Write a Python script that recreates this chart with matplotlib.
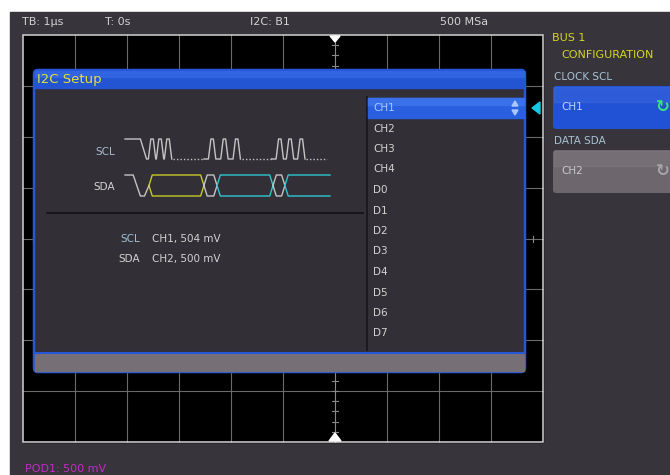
import numpy as np
import matplotlib
matplotlib.use('Agg')
import matplotlib.pyplot as plt
from matplotlib.patches import Rectangle, FancyBboxPatch, Polygon

#%% Screen content
header_labels = ['TB: 1\u00b5s', 'T: 0s', 'I2C: B1', '500 MSa']
source_list = ['CH1', 'CH2', 'CH3', 'CH4', 'D0', 'D1', 'D2', 'D3', 'D4', 'D5', 'D6', 'D7']
selected = 'CH1'
signal_names = ['SCL', 'SDA']
signal_sources = ['CH1', 'CH2']
thresholds_mv = [504, 500]
menu_title = ['BUS 1', 'CONFIGURATION']
menu_items = ['CLOCK SCL', 'DATA SDA']
pod_label = 'POD1: 500 mV'

# SCL clock bursts (pulse centres, diagram time 0..100) and SDA bus segments
scl_bursts = [[13.2, 17.1, 21.0], [42.5, 48.5, 54.5], [75.5, 80.5, 86.0]]
sda_segments = [(11.7, 38.5, 'y'), (38.5, 44.9, 'g'), (44.9, 72.2, 'c'), (72.2, 78.0, 'g'), (78.0, 101, 'c')]

#%% Colours
BG = '#37343b'
PANEL = '#322f36'
BLUE = '#2657d8'
GRID = '#6a6a6a'
TXT = '#d2d2d2'
YEL = '#d6d624'
CYAN = '#2ec6d2'
WAVE = '#c4c4c4'
seg_col = {'y': '#c8c828', 'g': WAVE, 'c': CYAN}

plt.rcParams['font.family'] = ['DejaVu Sans']
fig = plt.figure(figsize=(6.7, 4.75), dpi=100, facecolor='white')
ax = fig.add_axes([0, 0, 1, 1])
ax.set_xlim(0, 670)
ax.set_ylim(475, 0)
ax.axis('off')

ax.add_patch(Rectangle((10, 12), 660, 463, color=BG, zorder=0))

#%% Graticule
gx0, gx1, gy0, gy1 = 23, 543, 35, 442
ax.add_patch(Rectangle((gx0, gy0), gx1 - gx0, gy1 - gy0, color='black', zorder=1))
xs = np.linspace(gx0, gx1, 11)
ys = np.linspace(gy0, gy1, 9)
trig_x = xs[6]
for x in xs[1:-1]:
    if x != trig_x:
        ax.plot([x, x], [gy0, gy1], color=GRID, lw=0.8, zorder=2)
for y in ys[1:-1]:
    ax.plot([gx0, gx1], [y, y], color=GRID, lw=0.8, zorder=2)
# trigger position line with minor ticks
ax.plot([trig_x, trig_x], [gy0, gy1], color='#8a8a8a', lw=0.8, zorder=2)
for y in np.arange(gy0, gy1, (ys[1] - ys[0]) / 5)[1:]:
    ax.plot([trig_x - 3, trig_x + 3], [y, y], color='#8a8a8a', lw=0.8, zorder=2)
for x in np.arange(gx0, gx1, (xs[1] - xs[0]) / 5)[1:]:
    ax.plot([x, x], [ys[4] - 3, ys[4] + 3], color='#8a8a8a', lw=0.8, zorder=2)
ax.add_patch(Rectangle((gx0, gy0), gx1 - gx0, gy1 - gy0, fill=False, ec='#d4d4d4', lw=1.1, zorder=3))
ax.add_patch(Polygon([[trig_x - 5, gy0 + 1], [trig_x + 5, gy0 + 1], [trig_x, gy0 + 7]], color='white', zorder=4))
ax.add_patch(Polygon([[trig_x - 6, gy1 - 1], [trig_x + 6, gy1 - 1], [trig_x, gy1 - 9]], color='white', zorder=4))

#%% Header
for lab, x in zip(header_labels, [22, 105, 250, 440]):
    ax.text(x, 22, lab, color=TXT, fontsize=8, va='center', ha='left', zorder=5)

#%% Dialog
ax.add_patch(FancyBboxPatch((34, 70), 491, 302, boxstyle='round,pad=0,rounding_size=4',
                            fc=PANEL, ec=BLUE, lw=1.8, zorder=5))
ax.add_patch(Rectangle((35, 71), 489, 17, color='#2354d2', zorder=6))
ax.add_patch(Rectangle((35, 71), 489, 6, color='#3064e0', zorder=6))
ax.text(37, 80, 'I2C Setup', color='#e2e234', fontsize=9.5, va='center', zorder=7)
ax.add_patch(Rectangle((35, 353), 489, 18, color='#767076', zorder=6))
ax.plot([35, 524], [352.5, 352.5], color=BLUE, lw=1.5, zorder=7)

# source list
ax.plot([367, 367], [97, 350], color='#18161a', lw=1.2, zorder=6)
ax.add_patch(Rectangle((368, 98), 156, 20, color='#2a60e0', zorder=6))
ax.add_patch(Rectangle((368, 98), 156, 7, color='#3a70ea', zorder=6))
for i, name in enumerate(source_list):
    col = '#a8c8ff' if name == selected else TXT
    ax.text(373, 108 + 20.5 * i, name, color=col, fontsize=7.5, va='center', zorder=7)
ax.add_patch(Polygon([[512, 106], [518, 106], [515, 101]], color='#a8c8ff', zorder=7))
ax.add_patch(Polygon([[512, 110], [518, 110], [515, 115]], color='#a8c8ff', zorder=7))
ax.add_patch(Polygon([[540, 102], [540, 114], [532, 108]], color='#18c8e2', zorder=7))

#%% Waveform sketch
def tx(t):
    return 125 + 2.05 * np.asarray(t)

hi, lo = [139, 159], [175, 196]
# SCL: idle high, start fall, clock bursts joined by dotted low stretches
lead = 2.2
for k, burst in enumerate(scl_bursts):
    if k == 0:
        t, lvl = [0, 7.5, 10.5], [1, 1, 0]
    else:
        t, lvl = [burst[0] - 1.8 - lead], [0]
    for c in burst:
        t += [c - 1.8, c - 0.6, c + 0.6, c + 1.8]
        lvl += [0, 1, 1, 0]
    ax.plot(tx(t), np.where(np.array(lvl) == 1, hi[0], hi[1]), color=WAVE, lw=1, zorder=7)
    gap_end = scl_bursts[k + 1][0] - 1.8 - lead if k < 2 else 99
    ax.plot([tx(t[-1]) + 1.5, tx(gap_end) - 1], [hi[1], hi[1]], color=WAVE, lw=1,
            ls=(0, (1, 1.5)), zorder=7)

# SDA
mid = (lo[0] + lo[1]) / 2
ax.plot(tx([0, 4, 7.5, 9.5, 11.7]), [lo[0], lo[0], lo[1], lo[1], mid], color=WAVE, lw=1, zorder=7)
for a, b, c in sda_segments:
    r = 1.6
    xa, xb = tx(a), tx(b)
    if b > 100:
        xs_top = [xa, tx(a + r), tx(100)]
        ax.plot(xs_top, [mid, lo[0], lo[0]], color=seg_col[c], lw=1, zorder=7)
        ax.plot(xs_top, [mid, lo[1], lo[1]], color=seg_col[c], lw=1, zorder=7)
    else:
        ax.plot([xa, tx(a + r), tx(b - r), xb, tx(b - r), tx(a + r), xa],
                [mid, lo[0], lo[0], mid, lo[1], lo[1], mid], color=seg_col[c], lw=1, zorder=7)

ax.text(115, 152, signal_names[0], color='#a6bccb', fontsize=7.5, ha='right', va='center', zorder=7)
ax.text(115, 187, signal_names[1], color=TXT, fontsize=7.5, ha='right', va='center', zorder=7)
ax.plot([47, 363], [212.5, 212.5], color='#141216', lw=1.2, zorder=7)

for i, (nm, src, mv) in enumerate(zip(signal_names, signal_sources, thresholds_mv)):
    y = 239 + 20 * i
    ax.text(140, y, nm, color='#9fc0d4' if i == 0 else TXT, fontsize=7.5, ha='right', va='center', zorder=7)
    ax.text(152, y, '{}, {} mV'.format(src, mv), color=TXT, fontsize=7.5, ha='left', va='center', zorder=7)

#%% Right softkey menu
ax.text(552, 38, menu_title[0], color=YEL, fontsize=8, va='center', zorder=7)
ax.text(561, 55, menu_title[1], color=YEL, fontsize=8, va='center', zorder=7)
btn_y = [86, 150]
btn_fc = ['#2152d6', '#6d676d']
btn_txt = ['#c0d4ff', '#c8c8c8']
icon_col = ['#3fe27a', '#a6a6a6']
for i in range(2):
    ax.text(554, btn_y[i] - 9, menu_items[i], color='#a8c2d2', fontsize=7.5, va='center', zorder=7)
    ax.add_patch(FancyBboxPatch((553, btn_y[i]), 125, 43, boxstyle='round,pad=0,rounding_size=3',
                                fc=btn_fc[i], ec='none', zorder=6))
    ax.add_patch(Rectangle((554, btn_y[i] + 1), 123, 15, color='white', alpha=0.06, zorder=6))
    ax.text(561, btn_y[i] + 21, signal_sources[i], color=btn_txt[i], fontsize=7.5, va='center', zorder=7)
    ax.text(663, btn_y[i] + 21, '\u21bb', color=icon_col[i], fontsize=12, ha='center', va='center',
            fontweight='bold', zorder=7)

ax.text(25, 464, pod_label, color='#c42cc4', fontsize=8, va='top', zorder=7)

fig.savefig('out.png', dpi=100, facecolor='white')
